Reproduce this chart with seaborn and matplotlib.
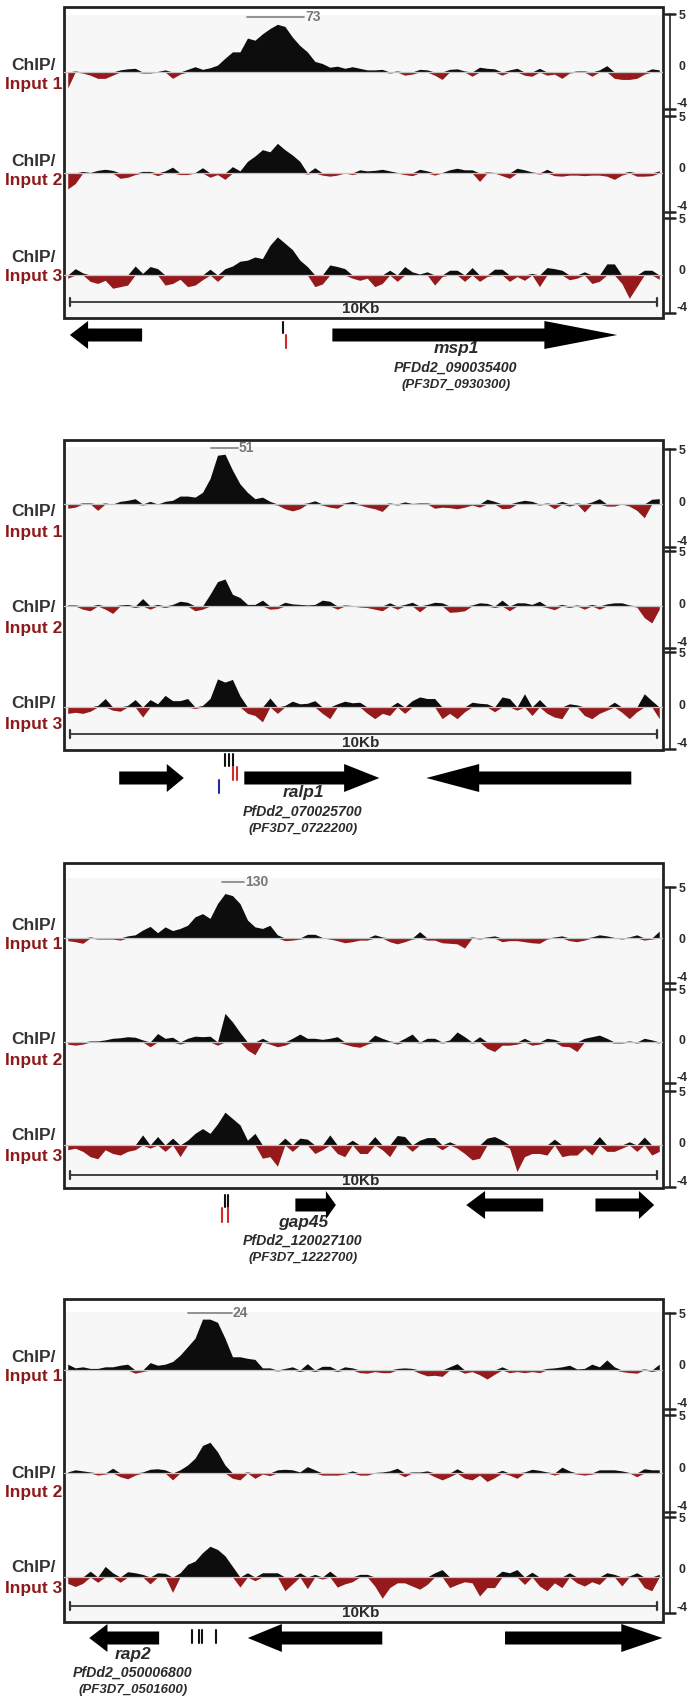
import numpy as np
import matplotlib
matplotlib.use("Agg")
import matplotlib.pyplot as plt
import seaborn as sns
from matplotlib import font_manager
from matplotlib.patches import Polygon, Rectangle

# ChIP/Input signal, 80 bins over the ~10.2 kb window (axis units, 5 .. -4)
msp1_1 = [-1.5, 0.1, -0.1, -0.3, -0.6, -0.6, -0.3, 0.2, 0.3, 0.35,
          -0.1, -0.1, 0.05, 0.2, -0.6, -0.2, 0.25, 0.5, 0.25, 0.4,
          0.65, 1.3, 1.9, 1.9, 3.2, 3.0, 3.6, 4.1, 4.5, 4.3,
          3.3, 2.5, 1.9, 1.0, 0.8, 0.45, 0.55, 0.35, 0.5, 0.35,
          0.2, 0.2, 0.25, -0.1, 0.1, -0.3, -0.2, 0.25, 0.2, -0.3,
          -0.7, 0.25, 0.3, 0.1, -0.4, 0.45, 0.35, 0.3, -0.3, 0.2,
          0.35, -0.3, -0.4, 0.35, -0.3, -0.2, -0.6, -0.1, 0.1, 0.1,
          -0.4, 0.2, 0.6, -0.6, -0.7, -0.7, -0.6, -0.2, 0.3, 0.2]
msp1_2 = [-1.5, -1.0, 0.15, 0.05, 0.25, 0.35, 0.25, -0.5, -0.4, -0.15,
          0.15, 0.15, -0.25, 0.2, 0.55, -0.15, -0.15, 0.05, 0.5, -0.4,
          -0.15, -0.6, 0.6, 0.2, 1.1, 1.6, 2.2, 2.0, 2.8, 2.2,
          1.7, 1.1, -0.1, 0.5, -0.2, -0.3, -0.2, 0.05, -0.15, 0.3,
          0.2, 0.25, 0.35, 0.2, 0.05, -0.15, -0.25, 0.35, 0.2, -0.2,
          0.05, 0.3, 0.45, 0.3, 0.3, -0.8, 0.1, 0.05, -0.25, -0.5,
          0.45, 0.3, 0.1, -0.1, 0.35, -0.25, -0.3, -0.2, -0.2, -0.25,
          -0.2, -0.2, -0.3, -0.6, -0.2, 0.15, -0.3, -0.3, -0.25, 0.2]
msp1_3 = [-0.3, 0.6, 0.2, -0.6, -0.8, -0.5, -1.25, -1.1, -0.95, 0.85,
          0.15, 0.8, 0.6, -0.95, -0.8, -0.4, -1.1, -0.95, -0.45, 0.55,
          -0.6, 0.6, 0.85, 1.3, 1.4, 1.7, 1.55, 2.8, 3.6, 3.0,
          2.4, 1.4, 0.8, -1.1, -0.85, 0.95, 0.8, 0.6, -0.3, -0.5,
          -0.3, -1.1, -0.8, 0.45, -0.6, 0.8, 0.3, 0.1, 0.3, -0.95,
          -0.15, 0.45, 0.45, -0.6, 0.7, -0.6, -0.15, 0.55, 0.55, -0.6,
          -0.15, -0.5, 0.15, -1.1, 0.7, 0.6, 0.45, -0.45, -0.3, 0.3,
          -0.8, -0.6, 1.05, 1.05, -0.8, -2.2, -1.1, 0.45, 0.45, -0.4]

ralp1_1 = [-0.4, -0.3, 0.1, 0.1, -0.6, 0.1, -0.05, 0.25, 0.35, 0.5,
           -0.1, 0.25, 0.0, 0.25, 0.35, 0.75, 0.75, 0.65, 1.1, 2.4,
           4.6, 4.7, 3.2, 1.9, 1.1, 0.5, 0.65, 0.25, -0.1, -0.45,
           -0.65, -0.45, 0.1, 0.3, -0.1, -0.3, -0.4, 0.1, 0.25, -0.1,
           -0.3, -0.45, -0.7, 0.1, -0.1, 0.2, 0.05, 0.1, 0.1, -0.4,
           -0.3, -0.35, -0.45, -0.3, -0.1, -0.3, 0.45, 0.25, -0.45, -0.4,
           0.2, 0.35, 0.25, -0.1, 0.1, -0.45, 0.25, -0.2, 0.1, -0.75,
           0.2, 0.5, -0.2, -0.2, 0.05, -0.2, -0.6, -1.3, 0.45, 0.5]
ralp1_2 = [0.1, 0.1, -0.3, -0.45, 0.15, -0.3, -0.7, 0.1, 0.15, -0.15,
           0.7, -0.3, 0.15, -0.15, 0.15, 0.45, 0.35, -0.45, -0.3, 1.1,
           2.3, 2.55, 1.1, 0.8, 0.15, 0.15, 0.55, -0.3, -0.25, 0.35,
           0.2, 0.15, 0.1, 0.15, 0.55, 0.45, -0.3, 0.1, 0.05, -0.1,
           -0.15, -0.3, -0.45, 0.3, -0.3, 0.15, 0.35, -0.55, 0.15, 0.35,
           0.3, -0.6, -0.55, -0.45, 0.1, 0.3, 0.25, -0.15, 0.55, -0.45,
           0.3, 0.3, 0.15, 0.45, -0.15, -0.35, 0.15, -0.15, 0.1, -0.3,
           0.15, -0.3, 0.2, 0.3, 0.3, 0.1, -0.1, -1.1, -1.6, -0.3]
ralp1_3 = [-0.6, -0.5, -0.6, -0.4, 0.15, 0.8, -0.3, -0.4, 0.15, 0.7,
           -0.95, 0.7, 0.3, 1.1, 0.6, 0.6, 0.8, -0.15, 0.15, 0.8,
           2.65, 2.35, 2.6, 1.05, -0.6, -0.8, -1.4, 0.85, -0.6, 0.15,
           0.55, 0.3, 0.35, 0.6, -0.6, -1.1, 0.3, 0.55, 0.4, 0.45,
           -0.6, -1.1, -0.6, -0.8, 0.45, -0.6, 0.6, 0.95, 0.8, 0.8,
           -1.1, -0.6, -1.1, -0.45, 0.45, 0.35, 0.3, -0.45, 0.95, 0.8,
           -0.3, 1.25, -0.8, 0.7, -0.6, -0.95, -1.1, 0.3, 0.2, -0.8,
           -1.1, -0.6, -0.3, 0.45, -0.5, -1.1, -0.45, 1.25, 0.6, -1.1]

gap45_1 = [-0.25, -0.35, -0.5, 0.1, -0.1, -0.1, -0.1, -0.2, 0.2, 0.3,
           0.75, 1.1, 0.5, 1.05, 0.7, 0.9, 1.2, 2.0, 2.3, 1.85,
           3.25, 4.2, 4.0, 3.25, 1.7, 1.05, 0.9, 1.2, 0.3, -0.25,
           -0.2, -0.1, 0.35, 0.35, 0.05, -0.1, -0.25, -0.45, -0.35, -0.2,
           -0.2, 0.3, 0.1, -0.35, -0.55, -0.35, -0.1, 0.6, -0.2, -0.2,
           -0.45, -0.5, -0.55, -0.95, 0.1, -0.1, 0.1, 0.2, -0.35, -0.25,
           -0.25, -0.35, -0.45, -0.5, -0.1, 0.1, 0.2, -0.25, -0.35, -0.2,
           0.1, 0.3, 0.2, 0.05, -0.1, 0.1, 0.3, -0.2, -0.1, 0.65]
gap45_2 = [-0.2, -0.3, -0.2, 0.1, 0.1, 0.2, 0.35, 0.4, 0.5, 0.45,
           0.2, -0.45, 0.8, 0.35, 0.45, -0.2, 0.35, 0.55, 0.5, 0.55,
           -0.3, 2.7, 1.9, 0.9, -0.75, -1.2, 0.35, -0.2, -0.45, -0.3,
           0.35, 0.75, 0.35, 0.35, 0.25, 0.35, 0.5, -0.2, -0.4, -0.5,
           -0.2, 0.65, 0.35, 0.1, -0.2, 0.35, 0.75, -0.1, 0.35, 0.35,
           -0.1, 0.2, 0.95, 0.5, -0.1, 0.5, -0.6, -0.9, -0.3, -0.3,
           -0.2, 0.35, -0.3, -0.2, 0.35, 0.25, -0.4, -0.45, -0.9, 0.35,
           0.5, 0.65, 0.35, -0.1, -0.1, 0.1, -0.1, 0.35, 0.2, -0.1]
gap45_3 = [-0.45, -0.3, -0.6, -1.1, -1.3, -0.45, -0.8, -0.95, -0.6, -0.45,
           0.95, -0.3, 0.8, -0.6, 0.65, -1.1, 0.45, 1.1, 1.55, 1.1,
           2.0, 3.1, 2.5, 1.9, 0.45, 1.1, -1.25, -1.1, -2.0, 0.65,
           -0.6, 0.65, 0.55, -0.8, -0.45, 0.95, -0.8, -1.1, 0.45, -0.8,
           -0.8, 0.8, -0.45, -1.1, 0.9, 0.8, -0.6, 0.45, 0.7, 0.7,
           -0.45, 0.3, -0.3, -0.8, -1.4, -1.25, 0.65, 0.8, 0.45, -0.3,
           -2.5, -1.1, -0.8, -0.8, -0.95, 0.55, -1.1, -0.95, -0.95, -0.3,
           -0.95, 0.8, -0.6, -0.6, -0.3, 0.3, -0.6, 0.75, -0.95, -0.6]

rap2_1 = [0.55, 0.2, 0.3, 0.15, 0.15, 0.3, 0.3, 0.45, 0.55, -0.3,
          -0.15, 0.7, 0.45, 0.55, 0.8, 1.4, 2.2, 3.0, 4.8, 4.8,
          4.5, 3.0, 1.25, 1.25, 1.1, 1.0, 0.2, 0.2, -0.1, 0.15,
          0.3, -0.15, 0.6, -0.15, 0.35, 0.35, -0.15, 0.3, 0.2, -0.25,
          -0.3, -0.15, -0.25, -0.25, 0.15, 0.2, 0.15, -0.3, -0.55, -0.5,
          -0.6, 0.3, 0.6, -0.3, -0.15, -0.45, -0.85, -0.4, 0.3, -0.25,
          -0.15, -0.25, -0.15, -0.25, 0.15, 0.2, 0.3, 0.45, 0.1, 0.15,
          0.55, 0.3, 0.95, 0.3, -0.15, -0.25, -0.3, 0.1, -0.15, 0.55]
rap2_2 = [0.1, 0.3, 0.2, 0.1, -0.2, -0.1, 0.45, -0.35, -0.55, -0.2,
          0.1, 0.35, 0.4, 0.3, -0.65, 0.3, 0.75, 1.4, 2.6, 2.9,
          2.0, 0.75, -0.5, -0.65, 0.1, -0.5, -0.1, -0.25, 0.3, 0.35,
          0.3, 0.1, 0.6, 0.3, -0.2, -0.2, -0.2, -0.1, 0.2, -0.2,
          -0.2, 0.05, 0.1, 0.2, 0.45, -0.35, 0.1, 0.1, 0.2, -0.35,
          -0.65, -0.35, 0.4, -0.5, -0.65, -0.2, -0.8, -0.45, 0.25, -0.2,
          -0.5, 0.1, 0.35, 0.25, 0.1, -0.2, 0.55, 0.2, -0.1, -0.2,
          -0.1, 0.3, 0.3, 0.3, 0.2, 0.05, -0.35, 0.4, 0.3, 0.3]
rap2_3 = [-0.6, -0.9, -0.6, 0.55, -0.5, 1.0, 0.4, -0.5, 0.5, 0.4,
          0.25, -0.65, 0.4, 0.35, -1.45, 0.4, 1.2, 1.5, 2.3, 2.9,
          2.6, 2.0, 1.0, -0.95, 0.4, -0.35, 0.4, 0.4, 0.4, -1.3,
          -0.65, 0.4, -1.1, 0.25, -0.2, 0.55, -0.95, -0.65, -0.45, 0.25,
          0.25, -0.85, -2.0, -1.0, -0.55, -0.55, -0.85, -1.15, -0.7, 0.4,
          0.7, -1.0, -0.7, -0.45, -0.55, -1.8, -1.0, -1.0, 0.55, 0.4,
          0.7, -0.7, 0.45, -0.85, -1.3, -0.55, -1.0, 0.4, -0.55, -0.85,
          -0.45, -0.7, 0.4, 0.25, -0.85, 0.1, 0.4, -1.0, -1.3, 0.25]

peak_max = [73, 51, 130, 24]
gene_names = ["msp1", "ralp1", "gap45", "rap2"]
gene_ids = ["PFDd2_090035400", "PfDd2_070025700", "PfDd2_120027100", "PfDd2_050006800"]
gene_pf3d7 = ["(PF3D7_0930300)", "(PF3D7_0722200)", "(PF3D7_1222700)", "(PF3D7_0501600)"]

# genes in each window: (start kb, end kb, strand)
msp1_genes = [(0.10, 1.33, -1), (4.57, 9.42, 1)]
ralp1_genes = [(0.94, 2.04, 1), (3.07, 5.37, 1), (6.17, 9.66, -1)]
gap45_genes = [(3.94, 4.63, 1), (6.85, 8.16, -1), (9.05, 10.05, 1)]
rap2_genes = [(0.43, 1.62, -1), (3.13, 5.42, -1), (7.51, 10.19, 1)]

# motif ticks (kb)
msp1_motifs = {"black": [3.73], "red": [3.78]}
ralp1_motifs = {"black": [2.74, 2.81, 2.88], "red": [2.88, 2.95], "blue": [2.64]}
gap45_motifs = {"black": [2.74, 2.79], "red": [2.69, 2.79]}
rap2_motifs = {"black": [2.18, 2.30, 2.35, 2.59]}

tracks = [[msp1_1, msp1_2, msp1_3], [ralp1_1, ralp1_2, ralp1_3],
          [gap45_1, gap45_2, gap45_3], [rap2_1, rap2_2, rap2_3]]
genes = [msp1_genes, ralp1_genes, gap45_genes, rap2_genes]
motifs = [msp1_motifs, ralp1_motifs, gap45_motifs, rap2_motifs]

# ---------------- layout (pixels) ----------------
W, H = 691, 1702
KB = 10.2
NB = 80
UNIT = 10.6
BX0, BX1 = 64, 663
box_y = [(7, 318), (440, 750), (863, 1188), (1299, 1622)]
bg_top = [15, 447, 878, 1312]
trk_top = [[14, 116, 218], [449, 551, 652], [887, 989, 1091], [1313, 1415, 1517]]
trk_bot = [[109, 212, 313], [547, 648, 749], [983, 1083, 1187], [1409, 1512, 1613]]
trk_zero = [[72, 173, 275], [504, 606, 707], [938, 1042, 1145], [1370, 1473, 1577]]
lab_y = [[(66, 85), (162, 181), (257, 277)],
         [(512, 532), (608, 628), (704, 724)],
         [(926, 945), (1040, 1061), (1136, 1157)],
         [(1357, 1377), (1473, 1493), (1568, 1589)]]
peak_line = [(247, 304, 17), (211, 238, 448), (222, 244, 882), (188, 232, 1313)]
bar_y = [302, 734, 1175, 1606]
bar_txt_y = [309, 743, 1181, 1613]
gene_y = [335, 778, 1205, 1638]
head_kb = [[0.31, 1.24], [0.29, 0.60, 0.90], [0.17, 0.32, 0.26], [0.31, 0.58, 0.70]]
motif_y = [{"black": (322, 333), "red": (335, 348)},
           {"black": (754, 766), "red": (767, 780), "blue": (780, 793)},
           {"black": (1195, 1207), "red": (1208, 1222)},
           {"black": (1630, 1643)}]
name_xy = [(456, 349), (303, 793), (303, 1222), (133, 1654)]

BLACK = "#0d0d0d"
RED = "#961a1c"
DARK = "#2b2b2b"
motif_col = {"black": "#111111", "red": "#d02a2a", "blue": "#1f2f9a"}

sns.set_theme(style="white")
plt.rcParams["font.family"] = ["Liberation Sans", "DejaVu Sans"]
names = {f.name for f in font_manager.fontManager.ttflist}
narrow = "Liberation Sans Narrow" in names

fig = plt.figure(figsize=(W / 100, H / 100), dpi=100)
fig.patch.set_facecolor("white")

ov = fig.add_axes([0, 0, 1, 1], zorder=0)
ov.set_xlim(0, W)
ov.set_ylim(H, 0)
ov.axis("off")

an = fig.add_axes([BX0 / W, 0, (BX1 - BX0) / W, 1], zorder=3)
an.set_xlim(0, KB)
an.set_ylim(H, 0)
an.axis("off")
an.patch.set_alpha(0)

bin_x = (np.arange(NB) + 0.5) * KB / NB

for p in range(4):
    top, bot = box_y[p]
    ov.add_patch(Rectangle((BX0, top), BX1 - BX0, bot - top, facecolor="white", lw=0, zorder=1))
    ov.add_patch(Rectangle((BX0, bg_top[p]), BX1 - BX0, bot - bg_top[p], facecolor="#f7f7f7", lw=0, zorder=2))
    ov.add_patch(Rectangle((BX0, top), BX1 - BX0, bot - top, facecolor="none",
                           edgecolor="#222222", lw=2.0, zorder=3))

    # right-hand data range scale
    ov.plot([670, 670], [trk_top[p][0], trk_bot[p][2]], color="#222222", lw=1.2)
    for t in range(3):
        tt, tb, tz = trk_top[p][t], trk_bot[p][t], trk_zero[p][t]
        for yy in (tt, tb):
            ov.plot([665, 675], [yy, yy], color="#222222", lw=1.8)
        ov.text(679, tt + 2, "5", ha="left", va="center", fontsize=8.8, weight="bold", color=DARK)
        ov.text(679, tt + (tb - tt) * 5 / 9, "0", ha="left", va="center", fontsize=8.8,
                weight="bold", color=DARK)
        ov.text(677, tb - 5, "-4", ha="left", va="center", fontsize=8.8, weight="bold", color=DARK)

        # labels
        ly1, ly2 = lab_y[p][t]
        ov.text(34, ly1, "ChIP/", ha="center", va="center", fontsize=12.5, weight="bold", color="#333333")
        ov.text(34, ly2, f"Input {t + 1}", ha="center", va="center", fontsize=12.5,
                weight="bold", color="#8b1a1a")

        # signal
        ax = fig.add_axes([BX0 / W, 1 - tb / H, (BX1 - BX0) / W, (tb - tt) / H], zorder=2)
        ax.patch.set_alpha(0)
        v = np.array(tracks[p][t])
        sns.lineplot(x=[0, KB], y=[0, 0], ax=ax, color="#c4c4c4", lw=0.9)
        ax.fill_between(bin_x, 0, np.clip(v, 0, None), color=BLACK, lw=0)
        ax.fill_between(bin_x, 0, np.clip(v, None, 0), color=RED, lw=0)
        ax.set_xlim(0, KB)
        ax.set_ylim(-(tb - tz) / UNIT, (tz - tt) / UNIT)
        ax.axis("off")

    # peak max label
    x0, x1, yy = peak_line[p]
    ov.plot([x0, x1], [yy, yy], color="#8a8a8a", lw=1.3, zorder=4)
    ov.text(x1 + 1, yy, str(peak_max[p]), ha="left", va="center", fontsize=10,
            weight="bold", color="#777777", zorder=4)

    # 10 kb scale bar
    by = bar_y[p]
    an.plot([0.1, 10.1], [by, by], color="#333333", lw=1.3)
    for xx in (0.1, 10.1):
        an.plot([xx, xx], [by - 4, by + 4], color="#333333", lw=1.6)
    an.text(5.05, bar_txt_y[p], "10Kb", ha="center", va="center", fontsize=11,
            weight="bold", color=DARK)

    # genes
    gy = gene_y[p]
    bh, hh = 6.5, 14
    for (s, e, strand), hl in zip(genes[p], head_kb[p]):
        if strand > 0:
            pts = [(s, gy - bh), (e - hl, gy - bh), (e - hl, gy - hh), (e, gy),
                   (e - hl, gy + hh), (e - hl, gy + bh), (s, gy + bh)]
        else:
            pts = [(e, gy - bh), (s + hl, gy - bh), (s + hl, gy - hh), (s, gy),
                   (s + hl, gy + hh), (s + hl, gy + bh), (e, gy + bh)]
        an.add_patch(Polygon(pts, closed=True, facecolor="black", edgecolor="none"))

    for col, xs in motifs[p].items():
        y0, y1 = motif_y[p][col]
        for xx in xs:
            an.plot([xx, xx], [y0, y1], color=motif_col[col], lw=1.5)

    nx, ny = name_xy[p]
    ov.text(nx, ny, gene_names[p], ha="center", va="center", fontsize=12.5,
            weight="bold", style="italic", color=DARK)
    if narrow:
        ov.text(nx, ny + 19, gene_ids[p], ha="center", va="center", fontsize=12.5,
                weight="bold", style="italic", color=DARK, family="Liberation Sans Narrow")
    else:
        ov.text(nx, ny + 19, gene_ids[p], ha="center", va="center", fontsize=10.2,
                weight="bold", style="italic", color=DARK)
    ov.text(nx, ny + 36, gene_pf3d7[p], ha="center", va="center", fontsize=9.5,
            weight="bold", style="italic", color=DARK)

fig.savefig("out.png", dpi=100)
